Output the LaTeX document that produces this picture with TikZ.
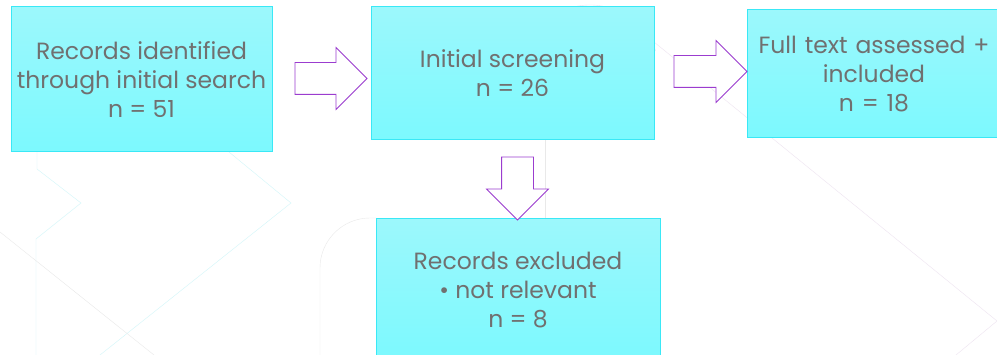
\documentclass[tikz,border=0pt]{standalone}
\usepackage{fontspec}
\setmainfont{Poppins}
\usetikzlibrary{shapes.arrows}
\definecolor{boxtop}{HTML}{9CF8FC}
\definecolor{boxbottom}{HTML}{7CF9FE}
\definecolor{boxline}{HTML}{3AE8F6}
\definecolor{textgray}{HTML}{707070}
\definecolor{arrowpurple}{HTML}{9B3CCF}
\definecolor{faintcyan}{HTML}{D2F6F9}
\definecolor{faintgray}{HTML}{E9E9E9}
\definecolor{faintpurple}{HTML}{EEE4F1}
\tikzset{
  recbox/.style={draw=boxline, line width=1pt, top color=boxtop, bottom color=boxbottom,
    text=textgray, align=center, inner sep=0pt, font=\fontsize{23.5}{29}\selectfont},
  blockarrow/.style={single arrow, draw=arrowpurple, fill=white, line width=0.8pt,
    inner sep=0pt, text height=31pt, text depth=0pt, single arrow head extend=15pt}
}
\begin{document}
\begin{tikzpicture}[x=1pt, y=-1pt]
  \useasboundingbox (0,0) rectangle (997,355);
  \clip (0,0) rectangle (997,355);
  \fill[white] (0,0) rectangle (997,355);
  \draw[faintcyan] (37,152) -- (37,169) -- (81,203) -- (36,239) -- (36,355);
  \draw[faintcyan] (229,152) -- (291,203) -- (100,355);
  \draw[faintgray] (0,232) -- (154,355);
  \draw[faintgray, rounded corners=50pt] (320,355) -- (320,218) -- (376,218);
  \draw[faintgray] (545,140) -- (545,219);
  \draw[faintpurple] (654,42) -- (997,321) -- (956,355);
  \draw[faintpurple] (590,75) ++(200:70) arc (200:340:70);

  \node[recbox, minimum width=261pt, minimum height=145pt] (found) at (141.5,79.5)
    {Records identified\\through initial search\\n = 51};
  \node[recbox, minimum width=283pt, minimum height=133pt] (screen) at (512.5,73.5)
    {Initial screening\\n = 26};
  \node[recbox, minimum width=254pt, minimum height=128pt, text width=250pt] (incl) at (874,74)
    {Full text assessed +\\included\\n = 18};
  \node[recbox, minimum width=284pt, minimum height=142pt] (excl) at (518,290)
    {Records excluded\\\textbullet\ not relevant\\n = 8};

  \node[blockarrow, minimum height=72pt] (toscreen) at (323,78.5) {};
  \node[blockarrow, minimum height=73pt] (toincl) at (702.5,71.5) {};
  \node[blockarrow, minimum height=63pt, rotate=-90] (toexcl) at (517.5,180.5) {};
\end{tikzpicture}
\end{document}
